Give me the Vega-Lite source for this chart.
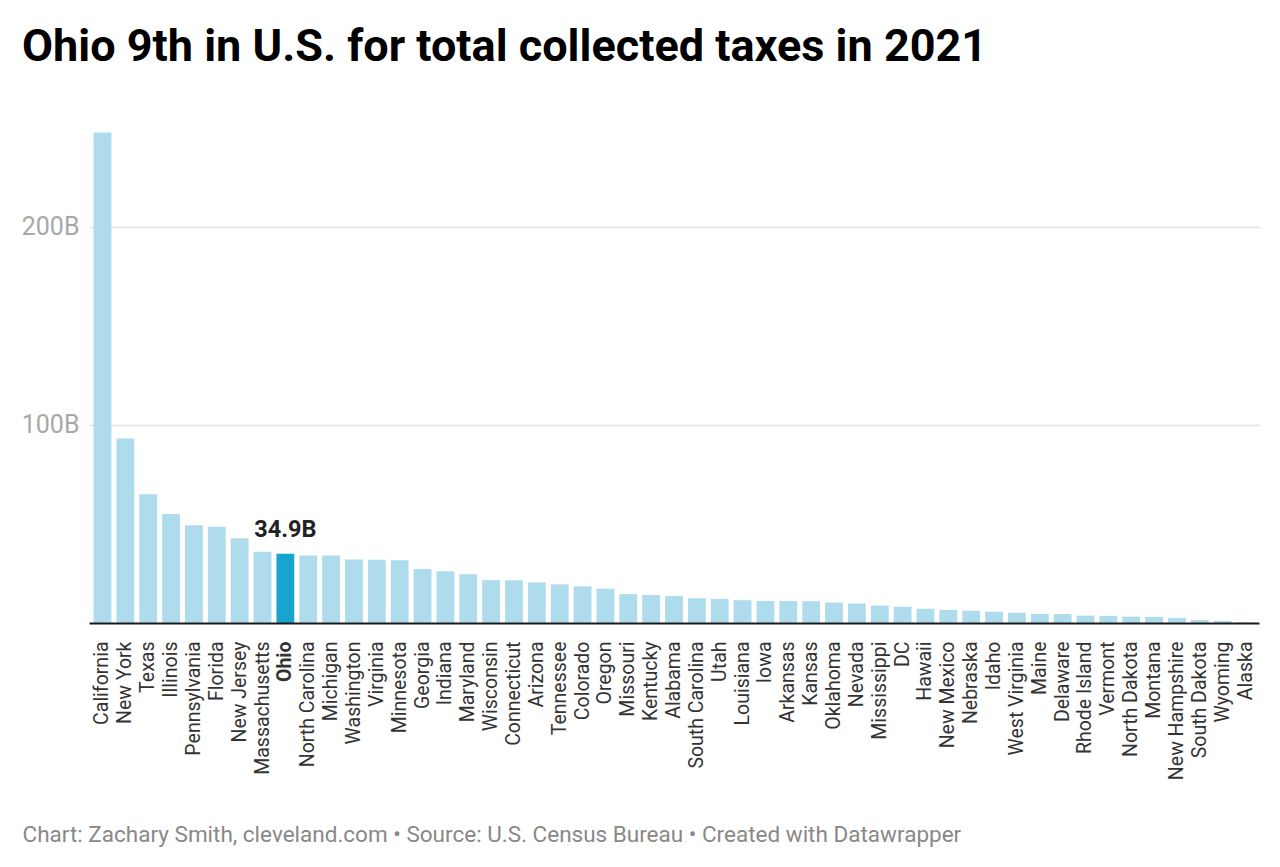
{
  "$schema": "https://vega.github.io/schema/vega-lite/v6.json",
  "width": 1170,
  "height": 491,
  "autosize": {"type": "none"},
  "padding": {"left": 89, "top": 132, "right": 21, "bottom": 244},
  "background": "#ffffff",
  "config": {"view": {"stroke": null}, "font": "Roboto"},
  "title": {
    "text": "Ohio 9th in U.S. for total collected taxes in 2021",
    "anchor": "start",
    "frame": "group",
    "dx": -67,
    "offset": 26,
    "baseline": "alphabetic",
    "font": "Roboto",
    "fontSize": 45,
    "fontWeight": "bold",
    "color": "#000000"
  },
  "data": {
    "values": [
      {"state": "California", "value": 247.5},
      {"state": "New York", "value": 93.1},
      {"state": "Texas", "value": 64.9},
      {"state": "Illinois", "value": 55.0},
      {"state": "Pennsylvania", "value": 49.3},
      {"state": "Florida", "value": 48.6},
      {"state": "New Jersey", "value": 42.8},
      {"state": "Massachusetts", "value": 35.9},
      {"state": "Ohio", "value": 34.9, "label": "34.9B"},
      {"state": "North Carolina", "value": 34.1},
      {"state": "Michigan", "value": 34.0},
      {"state": "Washington", "value": 32.0},
      {"state": "Virginia", "value": 31.9},
      {"state": "Minnesota", "value": 31.6},
      {"state": "Georgia", "value": 27.3},
      {"state": "Indiana", "value": 26.1},
      {"state": "Maryland", "value": 24.6},
      {"state": "Wisconsin", "value": 21.6},
      {"state": "Connecticut", "value": 21.5},
      {"state": "Arizona", "value": 20.5},
      {"state": "Tennessee", "value": 19.5},
      {"state": "Colorado", "value": 18.5},
      {"state": "Oregon", "value": 17.3},
      {"state": "Missouri", "value": 14.6},
      {"state": "Kentucky", "value": 14.1},
      {"state": "Alabama", "value": 13.6},
      {"state": "South Carolina", "value": 12.5},
      {"state": "Utah", "value": 12.1},
      {"state": "Louisiana", "value": 11.5},
      {"state": "Iowa", "value": 11.1},
      {"state": "Arkansas", "value": 11.1},
      {"state": "Kansas", "value": 11.0},
      {"state": "Oklahoma", "value": 10.3},
      {"state": "Nevada", "value": 9.8},
      {"state": "Mississippi", "value": 8.8},
      {"state": "DC", "value": 8.2},
      {"state": "Hawaii", "value": 7.2},
      {"state": "New Mexico", "value": 6.6},
      {"state": "Nebraska", "value": 6.2},
      {"state": "Idaho", "value": 5.7},
      {"state": "West Virginia", "value": 5.2},
      {"state": "Maine", "value": 4.6},
      {"state": "Delaware", "value": 4.5},
      {"state": "Rhode Island", "value": 3.7},
      {"state": "Vermont", "value": 3.5},
      {"state": "North Dakota", "value": 3.2},
      {"state": "Montana", "value": 3.1},
      {"state": "New Hampshire", "value": 2.6},
      {"state": "South Dakota", "value": 1.5},
      {"state": "Wyoming", "value": 1.1},
      {"state": "Alaska", "value": 0.3}
    ]
  },
  "encoding": {
    "x": {
      "field": "state",
      "type": "nominal",
      "sort": null,
      "scale": {"paddingInner": 0.22, "paddingOuter": 0.2},
      "axis": {
        "title": "Chart: Zachary Smith, cleveland.com • Source: U.S. Census Bureau • Created with Datawrapper",
        "titleFont": "Roboto",
        "titleFontSize": 22.5,
        "titleFontWeight": "normal",
        "titleColor": "#888888",
        "titleAnchor": "start",
        "titleAlign": "left",
        "titleBaseline": "alphabetic",
        "titleX": -67,
        "titleY": 218,
        "labelAngle": -90,
        "labelAlign": "right",
        "labelBaseline": "middle",
        "labelFont": "Roboto",
        "labelFontSize": 19.5,
        "labelColor": "#333333",
        "labelFontWeight": {"condition": {"test": "datum.value === 'Ohio'", "value": "bold"}, "value": "normal"},
        "labelPadding": 18,
        "labelOverlap": false,
        "ticks": false,
        "tickSize": 0,
        "domain": true,
        "domainColor": "#1a1a1a",
        "domainWidth": 2,
        "grid": false,
        "zindex": 1
      }
    },
    "y": {
      "field": "value",
      "type": "quantitative",
      "scale": {"domain": [0, 247.7], "nice": false, "zero": true},
      "axis": {
        "title": null,
        "values": [100, 200],
        "labelExpr": "datum.value + 'B'",
        "labelFont": "Roboto",
        "labelFontSize": 25,
        "labelColor": "#a8a8a8",
        "labelPadding": 10,
        "labelBaseline": "middle",
        "ticks": false,
        "domain": false,
        "grid": true,
        "gridColor": "#e2e2e2",
        "gridWidth": 1.5
      }
    }
  },
  "layer": [
    {
      "mark": {"type": "bar"},
      "encoding": {
        "color": {
          "condition": {"test": "datum.state === 'Ohio'", "value": "#19a3cf"},
          "value": "#afdcec"
        }
      }
    },
    {
      "transform": [{"filter": "isValid(datum.label)"}],
      "mark": {
        "type": "text",
        "baseline": "alphabetic",
        "align": "center",
        "dy": -17,
        "font": "Roboto",
        "fontSize": 23.5,
        "fontWeight": "bold",
        "color": "#222222"
      },
      "encoding": {"text": {"field": "label"}}
    }
  ]
}
